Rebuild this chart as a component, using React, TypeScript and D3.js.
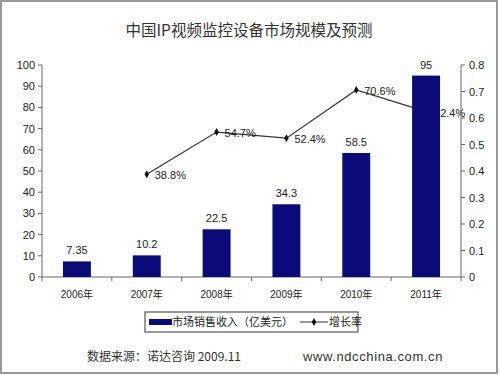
import { useEffect, useRef } from 'react'
import * as d3 from 'd3'

const years = ['2006年', '2007年', '2008年', '2009年', '2010年', '2011年']
const revenue = [7.35, 10.2, 22.5, 34.3, 58.5, 95]
const growth: (number | null)[] = [null, 0.388, 0.547, 0.524, 0.706, 0.624]
const growthLabels = ['', '38.8%', '54.7%', '52.4%', '70.6%', '62.4%']
const leftTicks = [0, 10, 20, 30, 40, 50, 60, 70, 80, 90, 100]
const rightTicks = [0, 0.1, 0.2, 0.3, 0.4, 0.5, 0.6, 0.7, 0.8]

const W = 500, H = 375
const M = { left: 42, right: 461, top: 65, bottom: 277 }
const FONT = 'Arial, "Liberation Sans", "Noto Sans CJK SC", sans-serif'
const CJK = '"Noto Sans CJK SC", sans-serif'
const BAR = '#0a0a78'
const TXT = '#222'

export default function App() {
  const svgRef = useRef<SVGSVGElement>(null)

  useEffect(() => {
    const svg = d3.select(svgRef.current)
    svg.selectAll('*').remove()

    svg.append('rect').attr('x', 1).attr('y', 1).attr('width', W - 4).attr('height', H - 3)
      .attr('fill', '#fff').attr('stroke', '#999').attr('stroke-width', 2)

    svg.append('text').attr('x', 249).attr('y', 36).attr('text-anchor', 'middle')
      .attr('font-family', CJK).attr('font-size', 15.5).attr('fill', '#333')
      .text('中国IP视频监控设备市场规模及预测')

    const x = d3.scaleBand<string>().domain(years).range([M.left, M.right]).paddingInner(0.6).paddingOuter(0.3)
    const yL = d3.scaleLinear([0, 100], [M.bottom, M.top])
    const yR = d3.scaleLinear([0, 0.8], [M.bottom, M.top])

    // left axis
    const ax = svg.append('g').attr('stroke', '#666').attr('stroke-width', 1)
    ax.append('line').attr('x1', M.left).attr('x2', M.left).attr('y1', M.top).attr('y2', M.bottom)
    leftTicks.forEach(t => {
      ax.append('line').attr('x1', M.left - 4).attr('x2', M.left).attr('y1', yL(t)).attr('y2', yL(t))
    })
    svg.append('g').selectAll('text').data(leftTicks).join('text')
      .attr('x', M.left - 7).attr('y', d => yL(d) + 4).attr('text-anchor', 'end')
      .attr('font-family', FONT).attr('font-size', 11).attr('fill', TXT).text(d => d)

    // right axis
    ax.append('line').attr('x1', M.right).attr('x2', M.right).attr('y1', M.top).attr('y2', M.bottom)
    rightTicks.forEach(t => {
      ax.append('line').attr('x1', M.right).attr('x2', M.right + 4).attr('y1', yR(t)).attr('y2', yR(t))
    })
    svg.append('g').selectAll('text').data(rightTicks).join('text')
      .attr('x', M.right + 8).attr('y', d => yR(d) + 4).attr('text-anchor', 'start')
      .attr('font-family', FONT).attr('font-size', 11).attr('fill', TXT).text(d => d3.format('.1~f')(d))

    // bottom axis
    ax.append('line').attr('x1', M.left).attr('x2', M.right).attr('y1', M.bottom).attr('y2', M.bottom)
    d3.range(years.length + 1).forEach(i => {
      const px = M.left + i * ((M.right - M.left) / years.length)
      ax.append('line').attr('x1', px).attr('x2', px).attr('y1', M.bottom).attr('y2', M.bottom + 4)
    })
    svg.append('g').selectAll('text').data(years).join('text')
      .attr('x', d => x(d)! + x.bandwidth() / 2).attr('y', M.bottom + 21).attr('text-anchor', 'middle')
      .attr('font-family', FONT).attr('font-size', 10).attr('fill', TXT).text(d => d)

    // growth line
    const pts = years.map((yr, i) => ({ yr, v: growth[i], lab: growthLabels[i] })).filter(p => p.v !== null)
    const line = d3.line<typeof pts[0]>()
      .x(p => x(p.yr)! + x.bandwidth() / 2).y(p => yR(p.v as number))
    svg.append('path').datum(pts).attr('d', line).attr('fill', 'none').attr('stroke', '#333').attr('stroke-width', 1.2)
    svg.append('g').selectAll('path').data(pts).join('path')
      .attr('d', d3.symbol(d3.symbolDiamond, 18))
      .attr('transform', p => `translate(${x(p.yr)! + x.bandwidth() / 2},${yR(p.v as number)})`)
      .attr('fill', '#111')
    svg.append('g').selectAll('text').data(pts).join('text')
      .attr('x', p => x(p.yr)! + x.bandwidth() / 2 + 8).attr('y', p => yR(p.v as number) + 5)
      .attr('font-family', FONT).attr('font-size', 11).attr('fill', TXT).text(p => p.lab)

    // bars
    svg.append('g').selectAll('rect').data(revenue).join('rect')
      .attr('x', (_, i) => x(years[i])!).attr('width', x.bandwidth())
      .attr('y', d => yL(d)).attr('height', d => yL(0) - yL(d)).attr('fill', BAR)
    svg.append('g').selectAll('text').data(revenue).join('text')
      .attr('x', (_, i) => x(years[i])! + x.bandwidth() / 2).attr('y', d => yL(d) - 7)
      .attr('text-anchor', 'middle').attr('font-family', FONT).attr('font-size', 11).attr('fill', TXT)
      .text(d => d)

    // legend
    const lg = svg.append('g')
    lg.append('rect').attr('x', 145).attr('y', 312).attr('width', 213).attr('height', 20)
      .attr('fill', '#fff').attr('stroke', '#555').attr('stroke-width', 1.2)
    lg.append('rect').attr('x', 149).attr('y', 319).attr('width', 23).attr('height', 6).attr('fill', BAR)
    lg.append('text').attr('x', 172).attr('y', 326).attr('font-family', CJK).attr('font-size', 11).attr('fill', TXT)
      .text('市场销售收入（亿美元）')
    lg.append('line').attr('x1', 300).attr('x2', 328).attr('y1', 322).attr('y2', 322).attr('stroke', '#333')
    lg.append('path').attr('d', d3.symbol(d3.symbolDiamond, 18)).attr('transform', 'translate(314,322)').attr('fill', '#111')
    lg.append('text').attr('x', 329).attr('y', 326).attr('font-family', CJK).attr('font-size', 11).attr('fill', TXT)
      .text('增长率')

    // footer
    svg.append('text').attr('x', 87).attr('y', 361).attr('font-family', CJK).attr('font-size', 12).attr('fill', '#333')
      .text('数据来源：诺达咨询 2009.11')
    svg.append('text').attr('x', 303).attr('y', 361).attr('font-family', FONT).attr('font-size', 13)
      .attr('letter-spacing', 0.6).attr('fill', '#333')
      .text('www.ndcchina.com.cn')
  }, [])

  return (
    <svg ref={svgRef} width={W} height={H} viewBox={`0 0 ${W} ${H}`}
      style={{ position: 'absolute', left: 0, top: 0, background: '#fff' }} />
  )
}
